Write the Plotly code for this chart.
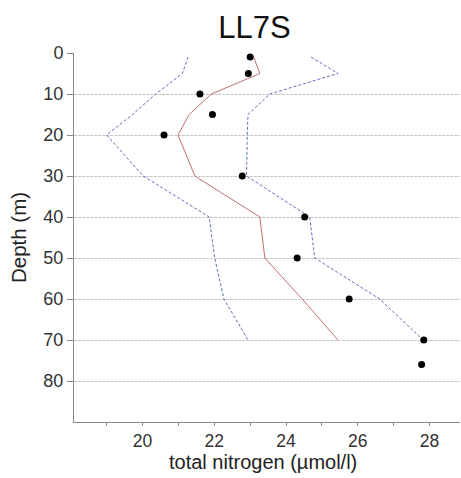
import plotly.graph_objects as go

# Observations
obs_depth = [1, 5, 10, 15, 20, 30, 40, 50, 60, 70, 76]
obs_tn = [23.0, 22.95, 21.6, 21.95, 20.6, 22.78, 24.52, 24.31, 25.76, 27.84, 27.78]

# Model mean (red line)
mean_depth = [1, 5, 10, 15, 20, 30, 40, 50, 60, 70]
mean_tn = [23.1, 23.27, 21.92, 21.3, 20.99, 21.46, 23.27, 23.41, 24.45, 25.45]

# Lower bound (blue dashed)
low_depth = [1, 5, 10, 15, 20, 30, 40, 50, 60, 70]
low_tn = [21.27, 21.11, 20.37, 19.72, 19.0, 20.02, 21.86, 22.01, 22.27, 22.94]

# Upper bound (blue dashed)
up_depth = [1, 5, 10, 15, 20, 30, 40, 50, 60, 70]
up_tn = [24.7, 25.45, 23.55, 22.94, 22.92, 22.9, 24.66, 24.8, 26.61, 27.82]

x_tickvals = [19, 20, 21, 22, 23, 24, 25, 26, 27, 28]
x_ticktext = ["", "20", "", "22", "", "24", "", "26", "", "28"]
y_tickvals = [0, 10, 20, 30, 40, 50, 60, 70, 80]

fig = go.Figure()
fig.add_trace(go.Scatter(x=low_tn, y=low_depth, mode="lines",
                         line=dict(color="#6070b8", width=1, dash="3px,2px")))
fig.add_trace(go.Scatter(x=up_tn, y=up_depth, mode="lines",
                         line=dict(color="#6070b8", width=1, dash="3px,2px")))
fig.add_trace(go.Scatter(x=mean_tn, y=mean_depth, mode="lines",
                         line=dict(color="#c07070", width=1)))
fig.add_trace(go.Scatter(x=obs_tn, y=obs_depth, mode="markers",
                         marker=dict(color="black", size=7)))

fig.update_layout(
    width=461, height=478,
    margin=dict(l=74, r=1, t=53, b=56),
    paper_bgcolor="white", plot_bgcolor="white",
    showlegend=False,
    font=dict(family="Liberation Sans, Arial, sans-serif", color="#333"),
    title=dict(text="LL7S", x=0.552, xanchor="center", y=0.944, yanchor="middle",
               font=dict(size=31, color="#111")),
    xaxis=dict(range=[18.09, 28.85], tickvals=x_tickvals, ticktext=x_ticktext,
               ticks="outside", ticklen=3, tickcolor="#888",
               showline=True, linecolor="#888", linewidth=1,
               showgrid=False, zeroline=False, automargin=False,
               tickfont=dict(size=17.5, color="#333")),
    yaxis=dict(range=[90, 0], tickvals=y_tickvals,
               ticks="outside", ticklen=6, tickcolor="#888",
               showline=True, linecolor="#888", linewidth=1,
               showgrid=True, gridcolor="#c4c4c4", gridwidth=1, griddash="3px,1px",
               zeroline=False, automargin=False,
               tickfont=dict(size=18, color="#333"),
               title=dict(text="Depth (m)", font=dict(size=20.5, color="#222"), standoff=11)),
    annotations=[dict(text="total nitrogen (µmol/l)", xref="paper", yref="paper",
                      x=0.49, y=-0.108, xanchor="center", yanchor="middle",
                      showarrow=False, font=dict(size=20, color="#222"))],
)

fig.write_html("out.html", config={"displayModeBar": False},
               post_script="document.body.style.margin='0';")
